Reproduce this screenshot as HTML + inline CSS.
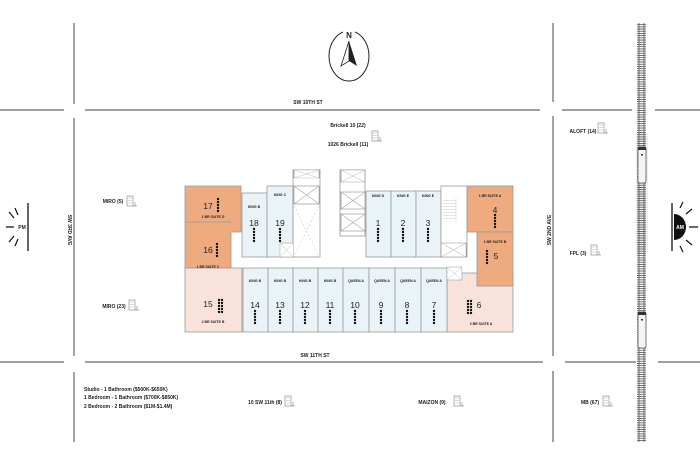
<!DOCTYPE html>
<html><head><meta charset="utf-8"><style>body{margin:0;background:#fff}svg{display:block}text{font-family:"Liberation Sans",sans-serif;font-weight:bold;fill:#222}</style></head><body>
<svg width="700" height="466" viewBox="0 0 700 466" xmlns="http://www.w3.org/2000/svg">
<defs>
<pattern id="ties" x="0" y="0" width="10" height="2.2" patternUnits="userSpaceOnUse"><rect x="0" y="0" width="10" height="0.9" fill="#666"/></pattern>
<g id="bld"><rect x="0" y="0" width="6" height="10" fill="none" stroke="#666" stroke-width="0.5"/><path d="M1.5 2h1M3.5 2h1M1.5 4.5h1M3.5 4.5h1M1.5 7h1M3.5 7h1M6 10h4M8 6v4" stroke="#666" stroke-width="0.5"/></g>
<g id="d5"><circle cx="0" cy="0" r="1.2" fill="#111"/><circle cx="0" cy="3" r="1.2" fill="#111"/><circle cx="0" cy="6" r="1.2" fill="#111"/><circle cx="0" cy="9" r="1.2" fill="#111"/><circle cx="0" cy="12" r="1.2" fill="#111"/></g>
<g id="x"><rect x="0" y="0" width="24" height="20" fill="#fff" stroke="#999" stroke-width="0.8"/><path d="M0 0L24 20M24 0L0 20" stroke="#aaa" stroke-width="0.6"/></g>
</defs>
<g stroke="#666" stroke-width="1.2">
<path d="M0 110H64M85 110H540M562 110H632M655 110H700"/>
<path d="M0 362H64M85 362H543M565 362H636M658 362H700"/>
<path d="M74 23V104M74 118V356M74 372V442M553 23V102M553 116V356M553 371V442"/>
</g>
<!-- rail -->
<rect x="636" y="133" width="12" height="120" fill="#eee"/>
<rect x="637" y="23" width="9" height="419" fill="url(#ties)"/>
<path d="M639 23V442M644 23V442" stroke="#555" stroke-width="0.8"/>
<g>
<rect x="638" y="147" width="8" height="36" rx="2" fill="#f4f4f4" stroke="#555" stroke-width="0.8"/><rect x="638" y="147" width="8" height="3" fill="#333"/><rect x="641" y="154" width="2" height="1.5" fill="#333"/>
<rect x="638" y="312" width="8" height="36" rx="2" fill="#f4f4f4" stroke="#555" stroke-width="0.8"/><rect x="638" y="312" width="8" height="3" fill="#333"/><rect x="641" y="319" width="2" height="1.5" fill="#333"/>
</g>
<!-- compass -->
<ellipse cx="349" cy="56" rx="20" ry="25" fill="none" stroke="#222" stroke-width="1"/>
<rect x="343" y="30" width="12" height="8" fill="#fff"/>
<text x="349" y="38" font-size="8" text-anchor="middle">N</text>
<path d="M349 41L341 66L349 61Z" fill="#fff" stroke="#222" stroke-width="0.8"/><path d="M349 41L357 66L349 61Z" fill="#222"/>
<!-- labels -->
<g font-size="5">
<text x="308" y="104" text-anchor="middle">SW 10TH ST</text>
<text x="348" y="127" text-anchor="middle">Brickell 10 (22)</text>
<text x="348" y="146" text-anchor="middle">1026 Brickell (11)</text>
<text x="583" y="133" text-anchor="middle">ALOFT (14)</text>
<text x="578" y="255" text-anchor="middle">FPL (3)</text>
<text x="113" y="203" text-anchor="middle">MIRO (5)</text>
<text x="114" y="308" text-anchor="middle">MIRO (23)</text>
<text x="315" y="357" text-anchor="middle">SW 11TH ST</text>
<text x="265" y="404" text-anchor="middle">10 SW 11th (8)</text>
<text x="432" y="404" text-anchor="middle">MAIZON (9)</text>
<text x="590" y="404" text-anchor="middle">MB (67)</text>
<text x="84" y="391">Studio - 1 Bathroom ($500K-$650K)</text>
<text x="84" y="399">1 Bedroom  - 1 Bathroom ($700K-$850K)</text>
<text x="84" y="408">2 Bedroom  - 2 Bathroom ($1M-$1.4M)</text>
<text transform="translate(68,230) rotate(90)" text-anchor="middle">SW 3RD AVE</text>
<text transform="translate(551,230) rotate(-90)" text-anchor="middle">SW 2ND AVE</text>
</g>
<use href="#bld" x="372" y="131"/><use href="#bld" x="598" y="123"/><use href="#bld" x="591" y="245"/>
<use href="#bld" x="127" y="196"/><use href="#bld" x="129" y="300"/>
<use href="#bld" x="285" y="396"/><use href="#bld" x="454" y="396"/><use href="#bld" x="603" y="396"/>
<!-- sun PM -->
<path d="M28 203V251" stroke="#111" stroke-width="1.3"/>
<g stroke="#111" stroke-width="1.2"><path d="M6 227H14M9 212L14 218M9 242L14 236M15 208L18 215M15 246L18 239"/></g>
<text x="22" y="229" font-size="5" text-anchor="middle" font-weight="normal">PM</text>
<!-- sun AM -->
<path d="M672 203V251" stroke="#111" stroke-width="1.3"/>
<path d="M674 214A12 13 0 0 1 674 240Z" fill="#111"/>
<text x="680" y="229" font-size="5" text-anchor="middle" style="fill:#fff">AM</text>
<g stroke="#111" stroke-width="1.2"><path d="M689 227H698M686 214L692 209M686 240L692 245M680 208L683 202M680 246L683 252"/></g>
<!-- building -->
<g stroke="#999" stroke-width="0.8">
<path d="M185 186H241V232H231V268H185Z" fill="#eeab80"/>
<path d="M185 222H231" fill="none"/>
<rect x="242" y="193" width="25" height="64" fill="#eaf3f8"/>
<rect x="267" y="186" width="26" height="71" fill="#eaf3f8"/>
<rect x="293" y="170" width="27" height="87" fill="#fff"/>
<rect x="340" y="170" width="25" height="66" fill="#fff"/>
<rect x="366" y="191" width="25" height="66" fill="#eaf3f8"/>
<rect x="391" y="191" width="25" height="66" fill="#eaf3f8"/>
<rect x="416" y="191" width="25" height="66" fill="#eaf3f8"/>
<rect x="441" y="186" width="26" height="71" fill="#fff"/>
<rect x="447" y="273" width="66" height="59" fill="#f9e2da"/>
<rect x="467" y="186" width="46" height="46" fill="#eeab80"/>
<rect x="477" y="232" width="36" height="54" fill="#eeab80"/>
<rect x="185" y="268" width="57" height="64" fill="#f9e2da"/>
<rect x="243" y="268" width="25" height="64" fill="#eaf3f8"/>
<rect x="268" y="268" width="25" height="64" fill="#eaf3f8"/>
<rect x="293" y="268" width="25" height="64" fill="#eaf3f8"/>
<rect x="318" y="268" width="25" height="64" fill="#eaf3f8"/>
<rect x="343" y="268" width="26" height="64" fill="#eaf3f8"/>
<rect x="369" y="268" width="26" height="64" fill="#eaf3f8"/>
<rect x="395" y="268" width="26" height="64" fill="#eaf3f8"/>
<rect x="421" y="268" width="26" height="64" fill="#eaf3f8"/>
</g>
<g transform="translate(294,186) scale(1.05,0.9)"><use href="#x"/></g>
<g transform="translate(294,170) scale(1.05,0.4)"><use href="#x"/></g>
<path d="M294 206L319 256M319 206L294 256" stroke="#bbb" stroke-width="0.5" stroke-dasharray="2 2"/>
<g transform="translate(341,170) scale(1,0.6)"><use href="#x"/></g>
<g transform="translate(341,192) scale(1,0.85)"><use href="#x"/></g>
<g transform="translate(341,214) scale(1,0.85)"><use href="#x"/></g>
<g transform="translate(280,243) scale(0.55,0.7)"><use href="#x"/></g>
<g transform="translate(441,243) scale(1.05,0.7)"><use href="#x"/></g>
<g transform="translate(447,267) scale(0.62,0.65)"><use href="#x"/></g>
<g stroke="#bbb" stroke-width="0.4"><path d="M443 200.5H456M443 203.5H456M443 206.5H456M443 209.5H456M443 212.5H456M443 215.5H456M443 218.5H456M456 198V222"/></g>
<g font-size="3.5" text-anchor="middle">
<text x="254" y="208">KING B</text><text x="280" y="196">KING C</text>
<text x="378" y="197">KING D</text><text x="403" y="197">KING E</text><text x="428" y="197">KING E</text>
<text x="213" y="218">1 BR SUITE D</text><text x="208" y="268">1 BR SUITE C</text>
<text x="490" y="197">1 BR SUITE A</text><text x="495" y="243">1 BR SUITE B</text>
<text x="213" y="323">2 BR SUITE B</text><text x="481" y="325">2 BR SUITE A</text>
<text x="255" y="282">KING B</text><text x="280" y="282">KING B</text><text x="305" y="282">KING B</text><text x="330" y="282">KING B</text>
<text x="356" y="282">QUEEN A</text><text x="382" y="282">QUEEN A</text><text x="408" y="282">QUEEN A</text><text x="434" y="282">QUEEN A</text>
</g>
<g font-size="8.5" text-anchor="middle">
<text x="208" y="209" style="font-weight:normal">17</text><text x="208" y="253" style="font-weight:normal">16</text>
<text x="254" y="226" style="font-weight:normal">18</text><text x="280" y="226" style="font-weight:normal">19</text>
<text x="378" y="226" style="font-weight:normal">1</text><text x="403" y="226" style="font-weight:normal">2</text><text x="428" y="226" style="font-weight:normal">3</text>
<text x="495" y="213" style="font-weight:normal">4</text><text x="496" y="259" style="font-weight:normal">5</text>
<text x="208" y="307" style="font-weight:normal">15</text><text x="479" y="308" style="font-weight:normal">6</text>
<text x="255" y="308" style="font-weight:normal">14</text><text x="280" y="308" style="font-weight:normal">13</text><text x="305" y="308" style="font-weight:normal">12</text><text x="330" y="308" style="font-weight:normal">11</text>
<text x="355" y="308" style="font-weight:normal">10</text><text x="381" y="308" style="font-weight:normal">9</text><text x="407" y="308" style="font-weight:normal">8</text><text x="434" y="308" style="font-weight:normal">7</text>
</g>
<use href="#d5" x="218" y="199"/><use href="#d5" x="217" y="244"/>
<use href="#d5" x="254" y="229"/><use href="#d5" x="280" y="229"/>
<use href="#d5" x="378" y="229"/><use href="#d5" x="403" y="229"/><use href="#d5" x="428" y="229"/>
<use href="#d5" x="495" y="215"/><use href="#d5" x="487" y="251"/>
<use href="#d5" x="219" y="300"/><use href="#d5" x="222" y="300"/><use href="#d5" x="468" y="301"/><use href="#d5" x="471" y="301"/>
<use href="#d5" x="255" y="311"/><use href="#d5" x="280" y="311"/><use href="#d5" x="305" y="311"/><use href="#d5" x="330" y="311"/>
<use href="#d5" x="355" y="311"/><use href="#d5" x="381" y="311"/><use href="#d5" x="407" y="311"/><use href="#d5" x="434" y="311"/>
</svg>
</body></html>
